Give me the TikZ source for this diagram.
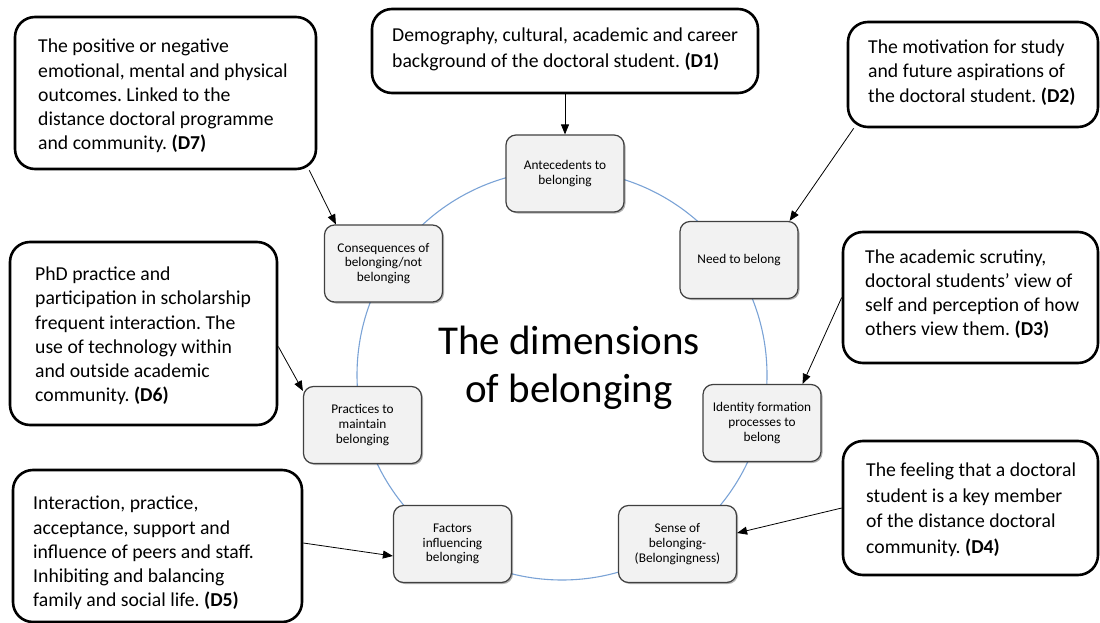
\documentclass[tikz,border=0pt]{standalone}
\usepackage{fontspec}
\setmainfont{Carlito}
\usetikzlibrary{shadows,arrows.meta}
\definecolor{ringblue}{RGB}{123,163,214}
\definecolor{ifill}{RGB}{242,242,242}
\definecolor{iborder}{RGB}{64,64,64}
\frenchspacing
\begin{document}
\begin{tikzpicture}[x=1pt,y=-1pt,
  obox/.style={draw=black, line width=2.6pt, rounded corners=20pt, fill=white, inner sep=0pt},
  otext/.style={anchor=west, align=left, inner sep=0pt, font=\fontsize{19.7}{24.2}\selectfont},
  ibox/.style={draw=iborder, line width=1.2pt, rounded corners=10pt, fill=ifill,
    minimum width=118pt, minimum height=77pt, align=center, inner sep=2pt,
    font=\fontsize{13.3}{14.6}\selectfont,
    drop shadow={shadow xshift=1.5pt, shadow yshift=-1.5pt, opacity=0.3, fill=black}},
  ring/.style={draw=ringblue, line width=1.1pt},
  arr/.style={draw=black, line width=0.8pt, -{Triangle[length=10pt,width=8pt]}},
  title/.style={align=center, inner sep=0pt, font=\fontsize{41}{48}\selectfont}
]
\useasboundingbox (0,0) rectangle (1100,623);

% cycle ring
\draw[ring] (562,375) circle[radius=205pt];

% inner nodes
\node[ibox] (ant) at (565,173.5) {Antecedents to\\belonging};
\node[ibox] (need) at (739,260) {Need to belong};
\node[ibox] (idn) at (762,423) {Identity formation\\processes to\\belong};
\node[ibox] (sns) at (677.5,544) {Sense of\\belonging-\\(Belongingness)};
\node[ibox] (fac) at (452.5,544) {Factors\\influencing\\belonging};
\node[ibox] (prc) at (362.5,425) {Practices to\\maintain\\belonging};
\node[ibox] (cns) at (383.5,263.5) {Consequences of\\belonging/not\\belonging};

% title
\node[title] (ttl) at (569,368) {The dimensions\\of belonging};

% outer boxes
\node[obox, minimum width=301pt, minimum height=152pt] (d7) at (165.5,93) {};
\node[otext] (d7t) at (38,96) {The positive or negative\\emotional, mental and physical\\outcomes. Linked to the\\distance doctoral programme\\and community. \textbf{(D7)}};

\node[obox, minimum width=386pt, minimum height=84pt] (d1) at (565,51) {};
\node[otext, font=\fontsize{19.7}{26}\selectfont] (d1t) at (392,49) {Demography, cultural, academic and career\\background of the doctoral student. \textbf{(D1)}};

\node[obox, minimum width=250pt, minimum height=105pt] (d2) at (973,74.5) {};
\node[otext] (d2t) at (868,72.5) {The motivation for study\\and future aspirations of\\the doctoral student. \textbf{(D2)}};

\node[obox, minimum width=255pt, minimum height=131pt] (d3) at (970.5,297.5) {};
\node[otext] (d3t) at (865,294) {The academic scrutiny,\\doctoral students’ view of\\self and perception of how\\others view them. \textbf{(D3)}};

\node[obox, minimum width=255pt, minimum height=134pt] (d4) at (970.5,508) {};
\node[otext, font=\fontsize{19.7}{25.5}\selectfont] (d4t) at (866,509.5) {The feeling that a doctoral\\student is a key member\\of the distance doctoral\\community. \textbf{(D4)}};

\node[obox, minimum width=289pt, minimum height=152pt] (d5) at (157.5,546) {};
\node[otext] (d5t) at (33,553) {Interaction, practice,\\acceptance, support and\\influence of peers and staff.\\Inhibiting and balancing\\family and social life. \textbf{(D5)}};

\node[obox, minimum width=267pt, minimum height=183pt] (d6) at (143.5,333.5) {};
\node[otext] (d6t) at (35,336) {PhD practice and\\participation in scholarship\\frequent interaction. The\\use of technology within\\and outside academic\\community. \textbf{(D6)}};

% connectors
\draw[arr] (d1.south) -- (ant.north);
\draw[arr] ([xshift=7pt]d2.south west) -- ([xshift=-9pt]need.north east);
\draw[arr] (d3.west) -- ([xshift=-19pt]idn.north east);
\draw[arr] (d4.west) -- ([yshift=11pt]sns.east);
\draw[arr] ([yshift=3pt]d5.east) -- ([yshift=-12pt]fac.west);
\draw[arr] ([yshift=-13pt]d6.east) -- ([yshift=-5pt]prc.north west);
\draw[arr] ([xshift=-8pt]d7.south east) -- ([xshift=12pt]cns.north west);
\end{tikzpicture}
\end{document}
